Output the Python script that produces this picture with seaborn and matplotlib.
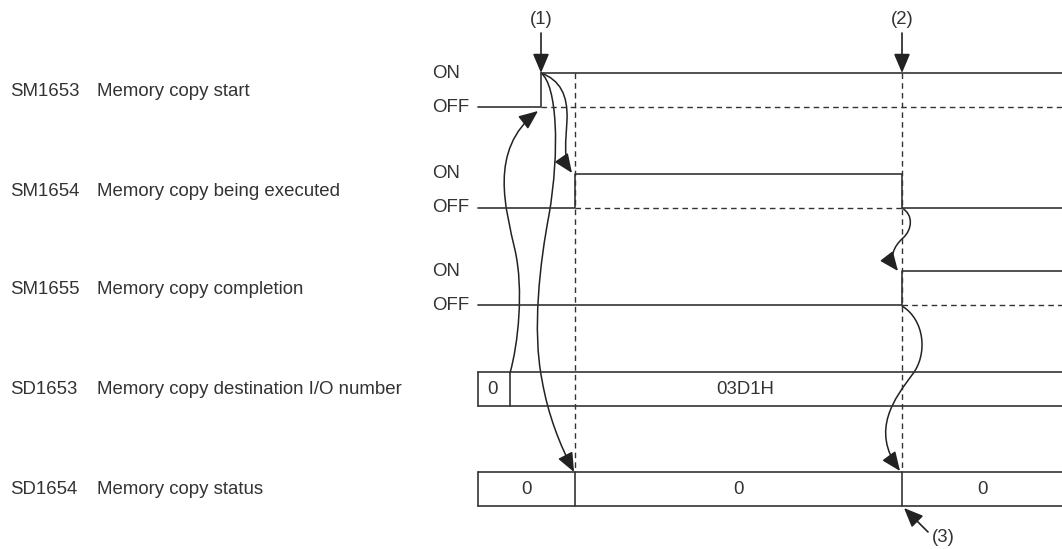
import matplotlib
matplotlib.use("Agg")
import matplotlib.pyplot as plt
import seaborn as sns
from matplotlib.path import Path
from matplotlib.patches import FancyArrowPatch, ArrowStyle

# ---- timing events (positions along the time axis) ----
t_left = 478     # diagram starts
t_start = 541    # (1) memory copy start turned ON
t_exec = 575     # copy execution begins
t_dest = 510     # destination I/O number written
t_done = 902     # (2) copy completed
t_right = 1062   # diagram ends

# ---- bit devices ----
bit_names = ["SM1653", "SM1654", "SM1655"]
bit_desc = ["Memory copy start", "Memory copy being executed", "Memory copy completion"]
bit_times = [[t_left, t_start, t_right],
             [t_left, t_exec, t_done, t_right],
             [t_left, t_done, t_right]]
bit_levels = [[0, 1, 1],
              [0, 1, 0, 0],
              [0, 1, 1]]

# ---- word devices ----
reg_names = ["SD1653", "SD1654"]
reg_desc = ["Memory copy destination I/O number", "Memory copy status"]
reg_bounds = [[t_left, t_dest, t_right],
              [t_left, t_exec, t_done, t_right]]
reg_values = [["0", "03D1H"],
              ["0", "0", "0"]]

# ---- layout ----
W, H = 1062, 549
row_y = [90, 191, 288, 389, 489]
half = 17
ink = "#333333"
lw = 1.2
dash = (0, (4.0, 3.0))

sns.set_style("white")
plt.rcParams["font.family"] = ["Liberation Sans", "DejaVu Sans"]
fs = 13.4

fig = plt.figure(figsize=(W / 100, H / 100), dpi=100)
ax = fig.add_axes([0, 0, 1, 1])
ax.set_xlim(0, W)
ax.set_ylim(H, 0)
ax.axis("off")

def lev_y(row, lev):
    return row_y[row] - half if lev else row_y[row] + half

# bit waveforms
for i, (times, levels) in enumerate(zip(bit_times, bit_levels)):
    ys = [lev_y(i, v) for v in levels]
    sns.lineplot(x=times, y=ys, drawstyle="steps-post", estimator=None, sort=False,
                 color=ink, lw=lw, ax=ax)
    # dashed OFF level while ON
    for k in range(len(times) - 1):
        if levels[k] == 1:
            ax.plot([times[k], times[k + 1]], [lev_y(i, 0)] * 2, color=ink, lw=1.0, ls=dash)
    ax.text(10, row_y[i] + 1, bit_names[i], fontsize=fs, color=ink, va="center")
    ax.text(97, row_y[i] + 1, bit_desc[i], fontsize=fs, color=ink, va="center")
    ax.text(432, lev_y(i, 1), "ON", fontsize=fs, color=ink, va="center")
    ax.text(432, lev_y(i, 0), "OFF", fontsize=fs, color=ink, va="center")

# word devices
value_pos = [[493, 745], None]
for j, (bounds, vals) in enumerate(zip(reg_bounds, reg_values)):
    r = len(bit_names) + j
    top, bot = row_y[r] - half, row_y[r] + half
    ax.plot([bounds[0], bounds[-1]], [top, top], color=ink, lw=lw)
    ax.plot([bounds[0], bounds[-1]], [bot, bot], color=ink, lw=lw)
    for b in bounds[:-1]:
        ax.plot([b, b], [top, bot], color=ink, lw=lw)
    for k, v in enumerate(vals):
        xc = value_pos[j][k] if value_pos[j] else (bounds[k] + bounds[k + 1]) / 2
        ax.text(xc, row_y[r] + 1, v, fontsize=fs, color=ink, ha="center", va="center")
    ax.text(10, row_y[r] + 1, reg_names[j], fontsize=fs, color=ink, va="center")
    ax.text(97, row_y[r] + 1, reg_desc[j], fontsize=fs, color=ink, va="center")

# vertical dashed guides
on_top = lev_y(0, 1)
stat_top = row_y[4] - half
for t in (t_exec, t_done):
    ax.plot([t, t], [on_top, stat_top], color=ink, lw=1.0, ls=dash)

# (1) and (2) markers
for t, lab in ((t_start, "(1)"), (t_done, "(2)")):
    ax.text(t, 20, lab, fontsize=fs, color=ink, ha="center", va="center")
    ax.annotate("", xy=(t, on_top), xytext=(t, 33),
                arrowprops=dict(arrowstyle="-|>,head_length=0.9,head_width=0.38",
                                color="#222222", lw=1.2, shrinkA=0, shrinkB=0,
                                mutation_scale=13))

# (3) marker
ax.text(943, 538, "(3)", fontsize=fs, color=ink, ha="center", va="center")
ax.annotate("", xy=(t_done + 2, row_y[4] + half + 2), xytext=(928, 532),
            arrowprops=dict(arrowstyle="-|>,head_length=0.9,head_width=0.38",
                            color="#222222", lw=1.2, shrinkA=0, shrinkB=0,
                            mutation_scale=13))

# curved cause/effect arrows (cubic bezier segments)
C4 = Path.CURVE4
curves = [
    [(t_dest, 373), (518, 345), (524, 290), (515, 250), (506, 210), (488, 150), (538, 111)],
    [(t_start, 73), (557, 85), (560, 150), (549, 215), (540, 262), (532, 330), (542, 380),
     (548, 415), (560, 445), (574, 472)],
    [(t_start, 73), (560, 80), (568, 95), (567, 120), (566, 140), (563, 160), (572, 173)],
    [(t_done, 208), (914, 215), (912, 230), (903, 238), (894, 246), (888, 258), (898, 271)],
    [(t_done, 306), (925, 320), (928, 355), (912, 375), (895, 398), (870, 430), (900, 471)],
]
style = ArrowStyle("-|>", head_length=0.9, head_width=0.38)
for pts in curves:
    codes = [Path.MOVETO] + [C4] * (len(pts) - 1)
    p = FancyArrowPatch(path=Path(pts, codes), arrowstyle=style, mutation_scale=13,
                        color="#222222", lw=1.1, fill=True)
    ax.add_patch(p)

fig.savefig("out.png", dpi=100, facecolor="white")
